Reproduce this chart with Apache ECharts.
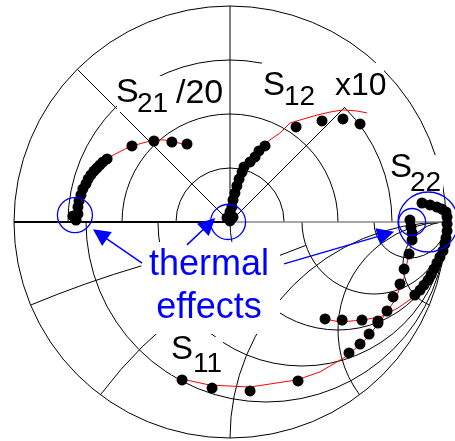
<!DOCTYPE html>
<html>
<head>
<meta charset="utf-8">
<script src="https://cdn.jsdelivr.net/npm/echarts@6/dist/echarts.min.js"></script>
<style>
html, body { margin: 0; padding: 0; background: #fff; }
#chart { width: 455px; height: 441px; }
</style>
</head>
<body>
<div id="chart"></div>
<script>
// all points are [re, im] in the reflection plane (unit circle = chart rim)
const s21Points = [[-0.713,0.009],[-0.727,0.028],[-0.704,0.037],[-0.704,0.069],[-0.699,0.097],[-0.690,0.125],[-0.681,0.153],[-0.667,0.176],[-0.657,0.199],[-0.644,0.218],[-0.630,0.236],[-0.616,0.250],[-0.602,0.264],[-0.588,0.278],[-0.569,0.292],[-0.454,0.352],[-0.352,0.375],[-0.269,0.370],[-0.199,0.361]];
const s21Model = [[-0.708,0.019],[-0.699,0.079],[-0.681,0.148],[-0.648,0.208],[-0.602,0.264],[-0.565,0.296],[-0.523,0.319],[-0.486,0.338],[-0.454,0.352],[-0.403,0.366],[-0.352,0.380],[-0.310,0.380],[-0.269,0.375],[-0.222,0.361]];

const s12Points = [[0,0.005],[-0.014,0.019],[0.014,0.023],[0,0.046],[0.009,0.069],[0.014,0.102],[0.023,0.134],[0.032,0.167],[0.042,0.199],[0.056,0.231],[0.065,0.255],[0.093,0.278],[0.116,0.301],[0.134,0.329],[0.162,0.352],[0.306,0.440],[0.426,0.468],[0.523,0.477],[0.602,0.454]];
const s12Model = [[0,0.019],[0.009,0.079],[0.028,0.148],[0.046,0.208],[0.069,0.259],[0.116,0.310],[0.171,0.370],[0.231,0.412],[0.278,0.458],[0.310,0.468],[0.403,0.495],[0.463,0.509],[0.523,0.519],[0.588,0.514],[0.634,0.505]];

const s22Points = [[0.889,0.088],[0.926,0.079],[0.958,0.069],[0.981,0.060],[1.000,0.046],[1.005,0.023],[1.005,-0.009],[1.005,-0.042],[1.000,-0.074],[0.995,-0.102],[0.986,-0.134],[0.972,-0.162],[0.958,-0.190],[0.944,-0.218],[0.931,-0.245],[0.917,-0.269],[0.898,-0.292],[0.880,-0.315],[0.856,-0.338],[0.685,-0.458],[0.611,-0.454],[0.519,-0.454],[0.440,-0.449]];
const s22Model = [[0.898,0.093],[0.958,0.079],[1.000,0.051],[1.009,0.009],[1.009,-0.060],[0.991,-0.130],[0.963,-0.190],[0.926,-0.255],[0.880,-0.315],[0.856,-0.343],[0.778,-0.398],[0.694,-0.440],[0.611,-0.454],[0.509,-0.463],[0.417,-0.444]];

const s11Points = [[-0.222,-0.731],[-0.083,-0.769],[0.093,-0.782],[0.315,-0.736],[0.551,-0.606],[0.602,-0.565],[0.644,-0.519],[0.685,-0.468],[0.727,-0.412],[0.755,-0.347],[0.787,-0.287],[0.806,-0.218],[0.829,-0.148],[0.843,-0.083],[0.843,-0.051],[0.838,-0.023],[0.833,0.009]];
const s11Model = [[-0.222,-0.727],[-0.093,-0.755],[0.093,-0.764],[0.310,-0.731],[0.417,-0.694],[0.542,-0.620],[0.625,-0.546],[0.694,-0.463],[0.764,-0.361],[0.806,-0.259],[0.824,-0.167],[0.843,-0.083],[0.838,-0.014]];

// "thermal effects" rings and arrows
const thermalRings = [[-0.718,0.032],[-0.009,0],[0.843,0],[0.917,0]];
const arrowTails = [[-0.407,-0.190],[-0.199,-0.106],[0.250,-0.194]];
const arrowTips = [[-0.602,-0.056],[-0.097,-0.009],[0.722,-0.056]];

// grid values: polar rings on top, smith circles below
const polarRings = [0.25, 0.5, 0.75];
const polarSpokes = [45, 90, 135];
const resistances = [0.2, 0.5, 1, 2, 5];
const reactances = [-0.2, -0.5, -1, -2, -5];

const ringSizes = [35, 35, 27, 60];
// the two flattest reactance arcs are only drawn part way in from the rim
const reactanceReach = [-0.41, 0.35, null, null, null];
const BLUE = '#0000ff';
const FONT = '"Liberation Sans", Arial, sans-serif';

// arcs as [cx, cy, r, fromAngle, toAngle], angles counter-clockwise in radians
const arcs = [[0, 0, 1, 0, 2 * Math.PI]];
polarRings.forEach(r => arcs.push([0, 0, r, 0, Math.PI]));
resistances.forEach(r => arcs.push([r / (1 + r), 0, 1 / (1 + r), Math.PI, 2 * Math.PI]));
reactances.forEach((x, i) => {
  const R = 1 / Math.abs(x);
  const px = (x * x - 1) / (x * x + 1);
  const py = 2 * x / (x * x + 1);
  let end = Math.atan2(py - 1 / x, px - 1);
  if (end < Math.PI / 2) end += 2 * Math.PI;
  let start = Math.PI / 2;
  if (reactanceReach[i] != null) start = Math.acos((reactanceReach[i] - 1) / R);
  arcs.push([1, 1 / x, R, start, end]);
});

const spokes = polarSpokes.map(a => [0, 0, Math.cos(a * Math.PI / 180), Math.sin(a * Math.PI / 180)]);

function arcItem(params, api) {
  const c = api.coord([api.value(0), api.value(1)]);
  const r = api.size([api.value(2), 0])[0];
  return {
    type: 'arc',
    shape: { cx: c[0], cy: c[1], r: r, startAngle: -api.value(4), endAngle: -api.value(3), clockwise: true },
    style: { stroke: '#000', lineWidth: 1, fill: null }
  };
}

function segItem(color, width) {
  return function (params, api) {
    const a = api.coord([api.value(0), api.value(1)]);
    const b = api.coord([api.value(2), api.value(3)]);
    return {
      type: 'line',
      shape: { x1: a[0], y1: a[1], x2: b[0], y2: b[1] },
      style: { stroke: color, lineWidth: width }
    };
  };
}

function whiteBox(x, y, w, h) {
  return { type: 'rect', z: 3, silent: true, shape: { x: x, y: y, width: w, height: h }, style: { fill: '#fff' } };
}

function label(x, y, text, size, color, align) {
  return {
    type: 'text', z: 10, silent: true, x: x, y: y,
    style: {
      text: text, fill: color || '#000', font: size + 'px ' + FONT,
      textAlign: align || 'left', textVerticalAlign: 'middle',
      align: align || 'left', verticalAlign: 'middle'
    }
  };
}

const chart = echarts.init(document.getElementById('chart'));

chart.setOption({
  animation: false,
  grid: { left: 14, top: 6, width: 432, height: 432 },
  xAxis: { type: 'value', min: -1, max: 1, show: false },
  yAxis: { type: 'value', min: -1, max: 1, show: false },
  series: [
    { type: 'custom', z: 1, silent: true, renderItem: arcItem, data: arcs, encode: { x: 0, y: 1 } },
    { type: 'custom', z: 1, silent: true, renderItem: segItem('#000', 1), data: spokes, encode: { x: 0, y: 1 } },
    { type: 'custom', z: 1, silent: true, renderItem: segItem('#000', 2), data: [[-1, 0, 0, 0]], encode: { x: 0, y: 1 } },
    { type: 'custom', z: 1, silent: true, renderItem: segItem('#888', 1.5), data: [[0, 0, 1, 0]], encode: { x: 0, y: 1 } },
    ...[s21Model, s12Model, s22Model, s11Model].map(d => ({
      type: 'line', z: 5, data: d, showSymbol: false, clip: false, silent: true,
      lineStyle: { color: '#ff0000', width: 1 }
    })),
    ...[s21Points, s12Points, s22Points, s11Points].map(d => ({
      type: 'scatter', z: 6, data: d, symbolSize: 11, clip: false, silent: true,
      itemStyle: { color: '#000', opacity: 1 }
    })),
    {
      type: 'scatter', z: 7, data: thermalRings, clip: false, silent: true,
      symbolSize: (v, p) => ringSizes[p.dataIndex],
      itemStyle: { color: 'rgba(0,0,0,0)', borderColor: BLUE, borderWidth: 1.3, opacity: 1 }
    },
    {
      type: 'lines', coordinateSystem: 'cartesian2d', z: 7, silent: true,
      data: arrowTails.map((t, i) => ({ coords: [t, arrowTips[i]] })),
      symbol: ['none', 'triangle'], symbolSize: [10, 17],
      lineStyle: { color: BLUE, width: 1.5, opacity: 1 }
    }
  ],
  graphic: [
    whiteBox(117, 76, 111, 36),
    whiteBox(262, 63, 122, 44),
    whiteBox(390, 155, 53, 40),
    whiteBox(171, 337, 52, 38),
    whiteBox(142, 242, 138, 92),
    label(116, 93, 'S', 34),
    label(137, 104, '21', 28),
    label(176, 94, '/20', 34),
    label(263, 86, 'S', 33),
    label(284, 97, '12', 28),
    label(335, 86, 'x10', 32),
    label(390, 168, 'S', 33),
    label(410, 183, '22', 28),
    label(171, 350, 'S', 33),
    label(193, 364, '11', 28),
    label(209, 265, 'thermal', 36, BLUE, 'center'),
    label(209, 308, 'effects', 36, BLUE, 'center')
  ]
});
</script>
</body>
</html>
